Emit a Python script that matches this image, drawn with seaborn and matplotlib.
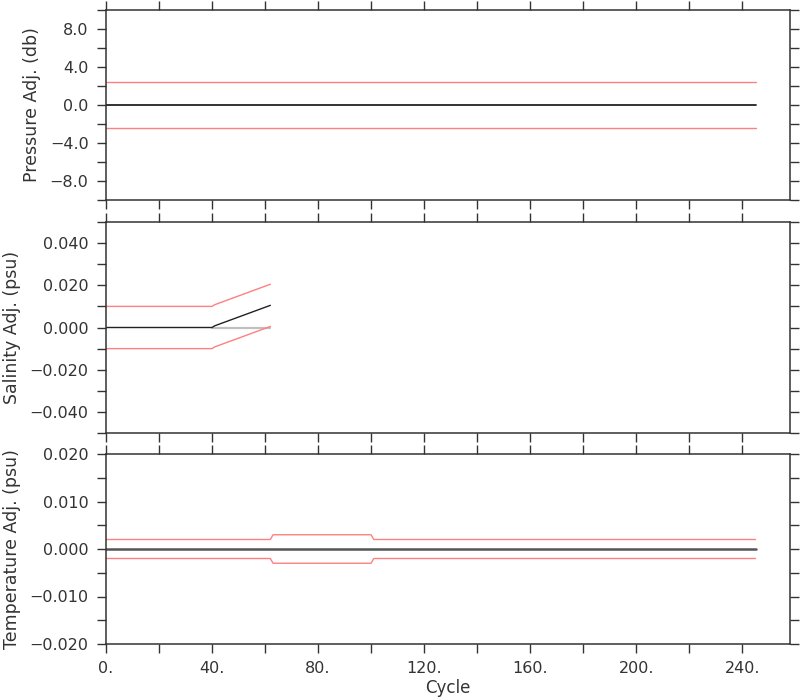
import matplotlib
matplotlib.use('Agg')
import matplotlib.pyplot as plt
import seaborn as sns
import pandas as pd
from matplotlib.ticker import MultipleLocator, FixedLocator, FixedFormatter

sns.set_style('ticks')
plt.rcParams['font.family'] = ['DejaVu Sans']

# pressure adjustment (db)
pres_cycle = [0, 245]
pres_adj = [0.0, 0.0]
pres_err = [2.4, 2.4]

# salinity adjustment (psu)
sal_cycle = [0, 40, 41, 62]
sal_adj = [0.0, 0.0, 0.0008, 0.0105]
sal_err = [0.010, 0.010, 0.010, 0.010]

# temperature adjustment
temp_cycle = [0, 62, 63, 100, 101, 245]
temp_adj = [0.0, 0.0, 0.0, 0.0, 0.0, 0.0]
temp_err = [0.002, 0.002, 0.003, 0.003, 0.002, 0.002]

x_ticks = [0, 40, 80, 120, 160, 200, 240]
x_labels = ['0.', '40.', '80.', '120.', '160.', '200.', '240.']

red = '#ff8080'
ink = '#333333'

fig = plt.figure(figsize=(8, 7), dpi=100)
W, H = 800, 700
left, right = 106, 790
boxes = [(10, 200), (222, 433), (454, 644)]
axes = [fig.add_axes([left / W, 1 - b / H, (right - left) / W, (b - t) / H])
        for t, b in boxes]

panels = [
    (pres_cycle, pres_adj, pres_err, 'Pressure Adj. (db)', (-10, 10), 2,
     [-8, -4, 0, 4, 8], ['\u22128.0', '\u22124.0', '0.0', '4.0', '8.0'], '#222222', 1.3),
    (sal_cycle, sal_adj, sal_err, 'Salinity Adj. (psu)', (-0.05, 0.05), 0.01,
     [-0.04, -0.02, 0, 0.02, 0.04],
     ['\u22120.040', '\u22120.020', '0.000', '0.020', '0.040'], '#222222', 1.0),
    (temp_cycle, temp_adj, temp_err, 'Temperature Adj. (psu)', (-0.02, 0.02), 0.005,
     [-0.02, -0.01, 0, 0.01, 0.02],
     ['\u22120.020', '\u22120.010', '0.000', '0.010', '0.020'], '#555555', 1.8),
]

for i, (ax, (cyc, adj, err, label, ylim, minor, yt, yl, col, lw)) in enumerate(zip(axes, panels)):
    df = pd.DataFrame({'cycle': cyc, 'adj': adj, 'err': err})
    df['upper'] = df['adj'] + df['err']
    df['lower'] = df['adj'] - df['err']
    if i == 1:
        # raw zero reference shown in grey
        sns.lineplot(x=[sal_cycle[1], sal_cycle[-1]], y=[0.0, 0.0], ax=ax,
                     color='#c0c0c0', lw=1.6, estimator=None)
    sns.lineplot(data=df, x='cycle', y='upper', ax=ax, color=red, lw=1.0, estimator=None)
    sns.lineplot(data=df, x='cycle', y='lower', ax=ax, color=red, lw=1.0, estimator=None)
    sns.lineplot(data=df, x='cycle', y='adj', ax=ax, color=col, lw=lw, estimator=None)

    ax.set_xlim(0, 258)
    ax.set_ylim(*ylim)
    ax.xaxis.set_major_locator(FixedLocator(x_ticks))
    ax.xaxis.set_minor_locator(MultipleLocator(20))
    ax.yaxis.set_major_locator(FixedLocator(yt))
    ax.yaxis.set_major_formatter(FixedFormatter(yl))
    ax.yaxis.set_minor_locator(MultipleLocator(minor))
    ax.tick_params(which='both', direction='out', top=True, right=True,
                   length=6.5, width=1.0, color=ink, labelcolor=ink,
                   labelsize=11.5, pad=6)
    if i == 2:
        ax.set_xticklabels(x_labels)
        ax.set_xlabel('Cycle', fontsize=12, color=ink, labelpad=2)
    else:
        ax.set_xticklabels([])
        ax.set_xlabel('')
    ax.set_ylabel(label, fontsize=12.5, color=ink, labelpad=6)
    for s in ax.spines.values():
        s.set_color(ink)
        s.set_linewidth(1.1)

fig.savefig('out.png', dpi=100)
